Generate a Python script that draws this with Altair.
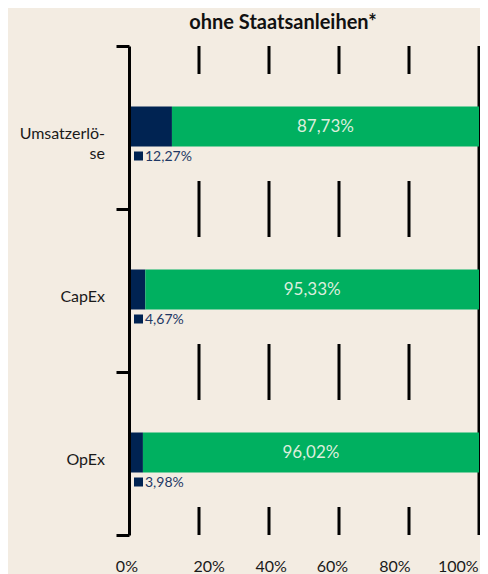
import altair as alt
import pandas as pd

# ---- data ----
categories = ["Umsatzerlöse", "CapEx", "OpEx"]
category_labels = [["Umsatzerlö-", "se"], ["CapEx"], ["OpEx"]]
navy_share = [12.27, 4.67, 3.98]
green_share = [87.73, 95.33, 96.02]
navy_labels = ["12,27%", "4,67%", "3,98%"]
green_labels = ["87,73%", "95,33%", "96,02%"]
grid_values = [20, 40, 60, 80]
frame_values = [100]
tick_labels = ["0%", "20%", "40%", "60%", "80%", "100%"]
tick_label_pos = [-0.6, 22.9, 40.6, 58.1, 76.0, 94.1]

BG = "#F3ECE2"
NAVY = "#002352"
GREEN = "#00B060"
FONT = "Lato"

rows = []
for c, n, g in zip(categories, navy_share, green_share):
    rows.append({"cat": c, "start": 0.0, "end": n, "part": "navy"})
    rows.append({"cat": c, "start": n, "end": n + g, "part": "green"})
bars_df = pd.DataFrame(rows)

cat_df = pd.DataFrame({
    "cat": categories,
    "label": category_labels,
    "navy": navy_share,
    "green": green_share,
    "navy_label": navy_labels,
    "green_label": green_labels,
    "zero": [0.0] * len(categories),
    "full": [100.0] * len(categories),
})
grid_df = pd.DataFrame({"v": grid_values})
frame_df = pd.DataFrame({"v": frame_values})
ticks_df = pd.DataFrame({"label": tick_labels, "pos": tick_label_pos})

xscale = alt.Scale(domain=[0, 100], nice=False, zero=False)
y_enc = alt.Y(
    "cat:N",
    sort=categories,
    scale=alt.Scale(paddingInner=0, paddingOuter=0),
    axis=alt.Axis(
        title=None, labels=False, grid=False, tickBand="extent",
        tickSize=13, tickWidth=3, tickColor="black",
        domainColor="black", domainWidth=3, zindex=1,
    ),
)

grid = alt.Chart(grid_df).mark_rule(color="black", strokeWidth=3).encode(
    x=alt.X("v:Q", scale=xscale, axis=None)
)

mask = alt.Chart(cat_df).mark_bar(size=107, color=BG).encode(
    x=alt.X("zero:Q", scale=xscale, axis=None), x2="full:Q", y=y_enc
)

frame = alt.Chart(frame_df).mark_rule(color="black", strokeWidth=3).encode(
    x=alt.X("v:Q", scale=xscale, axis=None)
)

bars = alt.Chart(bars_df).mark_bar(size=40, yOffset=-1).encode(
    x=alt.X("start:Q", scale=xscale, axis=None),
    x2="end:Q",
    y=y_enc,
    color=alt.Color("part:N", scale=alt.Scale(domain=["navy", "green"], range=[NAVY, GREEN]), legend=None),
)

green_text = alt.Chart(cat_df).transform_calculate(
    mid="(datum.navy + 100) / 2"
).mark_text(font=FONT, fontSize=17, color="#DCEEDD", baseline="middle", yOffset=-1).encode(
    x=alt.X("mid:Q", scale=xscale, axis=None), y=y_enc, text="green_label:N"
)

squares = alt.Chart(cat_df).mark_square(size=81, color=NAVY, opacity=1, xOffset=9.5, yOffset=28.5).encode(
    x=alt.X("zero:Q", scale=xscale, axis=None), y=y_enc
)

navy_text = alt.Chart(cat_df).mark_text(
    font=FONT, fontSize=14, color="#1F3864", align="left", baseline="middle", dx=16, dy=29
).encode(x=alt.X("zero:Q", scale=xscale, axis=None), y=y_enc, text="navy_label:N")

cat_text = alt.Chart(cat_df).mark_text(
    font=FONT, fontSize=16, color="#1a1a1a", align="right", baseline="middle",
    lineHeight=20, dy=6,
).encode(x=alt.value(-24), y=y_enc, text="label")

tick_text = alt.Chart(ticks_df).mark_text(
    font=FONT, fontSize=16, color="#1a1a1a", align="center", baseline="middle"
).encode(x=alt.X("pos:Q", scale=xscale, axis=None), y=alt.value(521), text="label:N")

chart = alt.layer(
    grid, mask, frame, bars, green_text, squares, navy_text, cat_text, tick_text
).properties(
    width=350,
    height=489,
    autosize=alt.AutoSizeParams(type="none"),
    padding={"left": 121, "top": 38, "right": 1, "bottom": 39},
    background=BG,
    title=alt.TitleParams(
        "ohne Staatsanleihen*", font=FONT, fontSize=20, fontWeight="bold",
        color="#111111", anchor="middle", dx=-21, offset=12,
    ),
).configure_view(stroke=None)

chart.save("out.html", embed_options={"renderer": "svg", "actions": False})
